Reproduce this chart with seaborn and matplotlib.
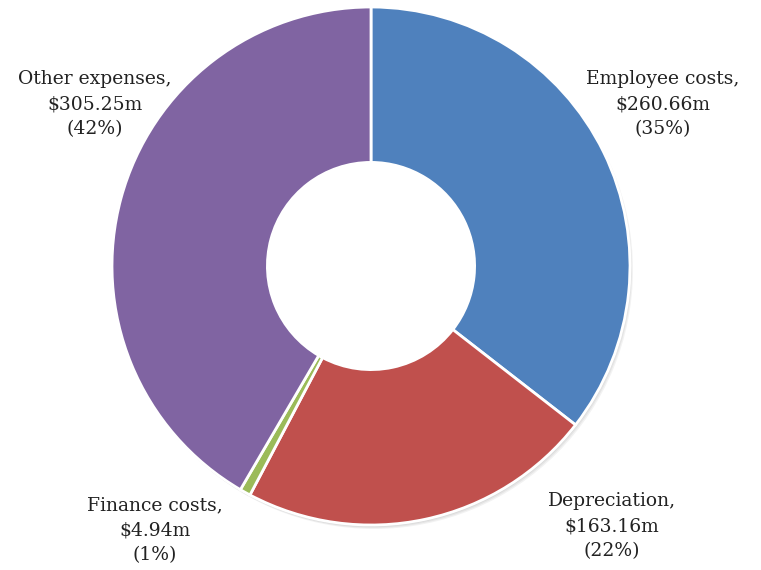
import matplotlib
matplotlib.use("Agg")
import matplotlib.pyplot as plt
import seaborn as sns
from matplotlib.patches import Wedge

# Expense breakdown ($ millions)
categories = ["Employee costs", "Depreciation", "Finance costs", "Other expenses"]
amounts = [260.66, 163.16, 4.94, 305.25]
percent_labels = ["35%", "22%", "1%", "42%"]
colors = ["#4F81BD", "#C0504D", "#9BBB59", "#8064A2"]

sns.set_theme(style="white")
plt.rcParams["font.family"] = ["DejaVu Serif"]

W, H = 761, 570
fig = plt.figure(figsize=(W / 100, H / 100), dpi=100)
ax = fig.add_axes([0, 0, 1, 1])

cx, cy, r = 371, H - 266, 259
ring = r * 0.60

# soft drop shadow along the outer edge of the ring
for i in range(3):
    ax.add_patch(Wedge((cx + 1 + i, cy - 2 - i), r, 0, 360, width=12,
                       color="black", alpha=0.05, lw=0, zorder=0))

ax.pie(
    amounts,
    colors=colors,
    startangle=90,
    counterclock=False,
    center=(cx, cy),
    radius=r,
    wedgeprops=dict(width=ring, edgecolor="white", linewidth=2),
)

label_pos = [(663, 104), (612, 526), (155, 530), (95, 104)]
for name, amt, pct, (x, y) in zip(categories, amounts, percent_labels, label_pos):
    ax.text(x, H - y, f"{name},\n${amt:.2f}m\n({pct})", ha="center", va="center",
            fontsize=13.5, color="#222222", linespacing=1.5)

ax.set_xlim(0, W)
ax.set_ylim(0, H)
ax.set_aspect("equal")
ax.axis("off")

fig.savefig("out.png", dpi=100)
